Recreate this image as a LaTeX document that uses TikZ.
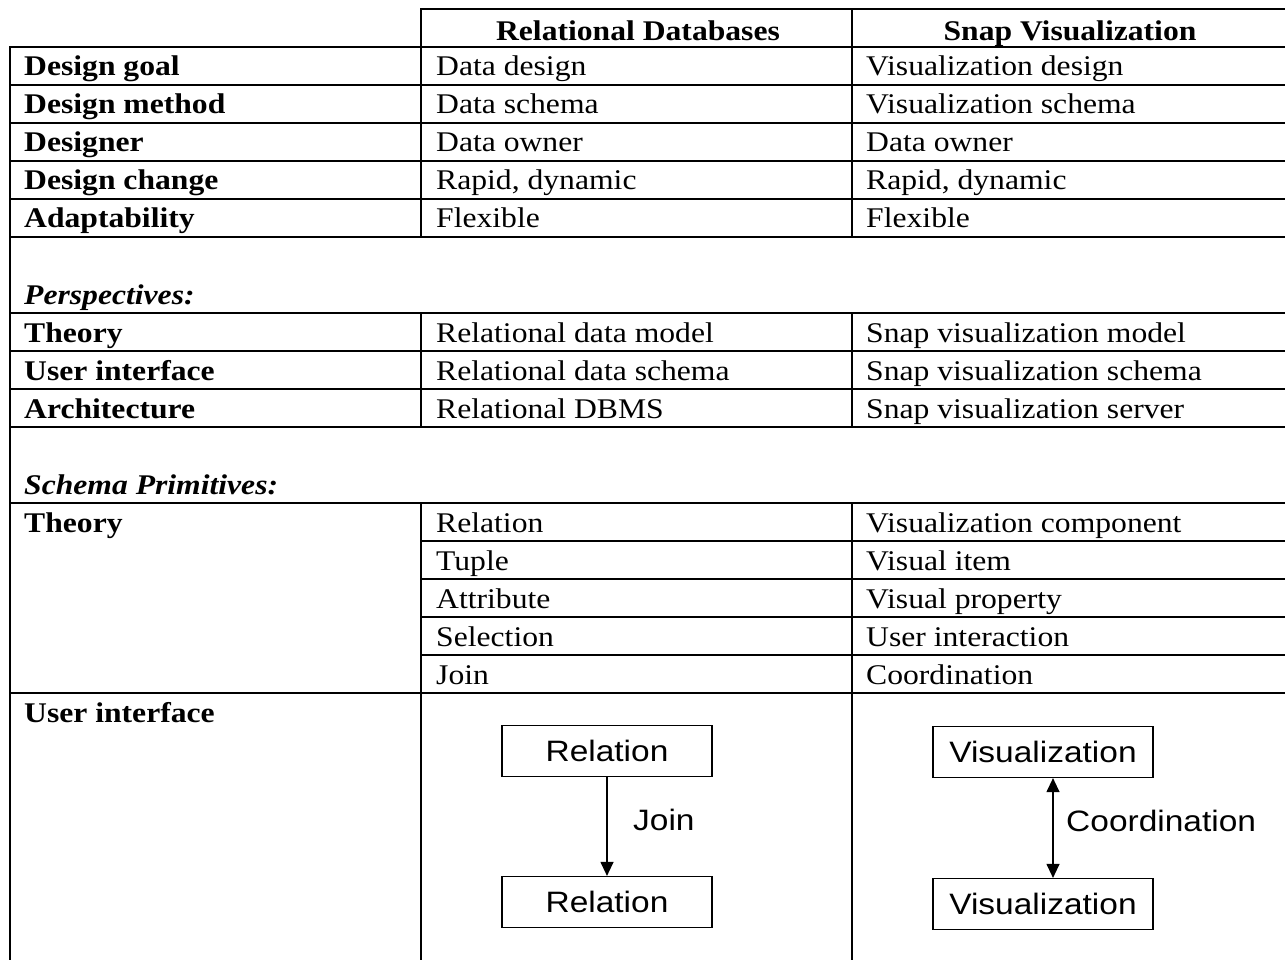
\documentclass[tikz,border=0pt]{standalone}
\usepackage{fontspec}
\setmainfont{Liberation Serif}[FakeStretch=1.11]
\newfontfamily\boxfont{Liberation Sans}[FakeStretch=1.135]
\usetikzlibrary{arrows.meta}

\begin{document}
\begin{tikzpicture}[x=1pt,y=-1pt,
  >={Triangle[length=14pt,width=13pt]},
  rule/.style={line width=2.6pt, line cap=rect},
  cell/.style={anchor=base west, inner sep=0pt, font=\fontsize{28.5}{32}\selectfont},
  head/.style={anchor=base, inner sep=0pt, font=\fontsize{28.5}{32}\selectfont\bfseries},
  lab/.style={cell, font=\fontsize{28.5}{32}\selectfont\bfseries},
  sec/.style={cell, font=\fontsize{28.5}{32}\selectfont\bfseries\itshape},
  entity/.style={draw, line width=1.2pt, minimum height=51pt, inner sep=0pt,
    font=\boxfont\fontsize{29.5}{32}\selectfont},
  link/.style={line width=1.2pt},
  boxlabel/.style={anchor=west, inner sep=0pt, font=\boxfont\fontsize{29.5}{32}\selectfont},
]
\useasboundingbox (0,0) rectangle (1285,960);

% ---- table rules ----
\draw[rule] (421,9) -- (1295,9);
\foreach \y in {47,85,123,161,199,237,313,351,389,427,503,693}
  \draw[rule] (10,\y) -- (1295,\y);
\foreach \y in {541,579,617,655}
  \draw[rule] (421,\y) -- (1295,\y);
\draw[rule] (10,47) -- (10,970);
\foreach \x in {421,852} {
  \draw[rule] (\x,9) -- (\x,237);
  \draw[rule] (\x,313) -- (\x,427);
  \draw[rule] (\x,503) -- (\x,970);
}

% ---- header ----
\node[head] (h1) at (638,41) {Relational Databases};
\node[head] (h2) at (1070,41) {Snap Visualization};

% ---- general rows ----
\node[lab]  (l1) at (24,76)  {Design goal};
\node[cell] (a1) at (436,76) {Data design};
\node[cell] (b1) at (866,76) {Visualization design};
\node[lab]  (l2) at (24,114) {Design method};
\node[cell] (a2) at (436,114) {Data schema};
\node[cell] (b2) at (866,114) {Visualization schema};
\node[lab]  (l3) at (24,152) {Designer};
\node[cell] (a3) at (436,152) {Data owner};
\node[cell] (b3) at (866,152) {Data owner};
\node[lab]  (l4) at (24,190) {Design change};
\node[cell] (a4) at (436,190) {Rapid, dynamic};
\node[cell] (b4) at (866,190) {Rapid, dynamic};
\node[lab]  (l5) at (24,228) {Adaptability};
\node[cell] (a5) at (436,228) {Flexible};
\node[cell] (b5) at (866,228) {Flexible};

% ---- perspectives ----
\node[sec]  (s1) at (24,304) {Perspectives:};
\node[lab]  (p1) at (24,342) {Theory};
\node[cell] (pa1) at (436,342) {Relational data model};
\node[cell] (pb1) at (866,342) {Snap visualization model};
\node[lab]  (p2) at (24,380) {User interface};
\node[cell] (pa2) at (436,380) {Relational data schema};
\node[cell] (pb2) at (866,380) {Snap visualization schema};
\node[lab]  (p3) at (24,418) {Architecture};
\node[cell] (pa3) at (436,418) {Relational DBMS};
\node[cell] (pb3) at (866,418) {Snap visualization server};

% ---- schema primitives ----
\node[sec]  (s2) at (24,494) {Schema Primitives:};
\node[lab]  (q1) at (24,532) {Theory};
\node[cell] (qa1) at (436,532) {Relation};
\node[cell] (qb1) at (866,532) {Visualization component};
\node[cell] (qa2) at (436,570) {Tuple};
\node[cell] (qb2) at (866,570) {Visual item};
\node[cell] (qa3) at (436,608) {Attribute};
\node[cell] (qb3) at (866,608) {Visual property};
\node[cell] (qa4) at (436,646) {Selection};
\node[cell] (qb4) at (866,646) {User interaction};
\node[cell] (qa5) at (436,684) {Join};
\node[cell] (qb5) at (866,684) {Coordination};
\node[lab]  (q2) at (24,722) {User interface};

% ---- relational sketch ----
\node[entity, minimum width=210pt] (r1) at (607,751) {Relation};
\node[entity, minimum width=210pt] (r2) at (607,902) {Relation};
\draw[link, ->] (r1) -- (r2);
\node[boxlabel] (jl) at (633,820) {Join};

% ---- visualization sketch ----
\node[entity, minimum width=220pt] (v1) at (1043,752) {Visualization};
\node[entity, minimum width=220pt] (v2) at (1043,904) {Visualization};
\coordinate (cx) at (1053,828);
\draw[link, <->] (v1.south -| cx) -- (v2.north -| cx);
\node[boxlabel] (cl) at (1066,821) {Coordination};
\end{tikzpicture}
\end{document}
